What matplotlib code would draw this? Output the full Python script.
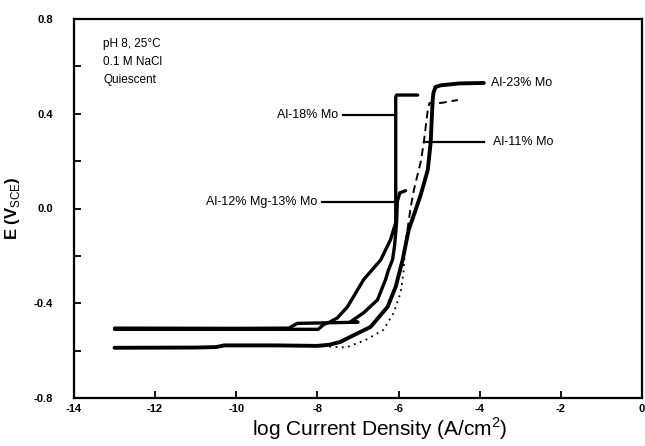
import numpy as np
import matplotlib.pyplot as plt

plt.rcParams['font.family'] = ['Liberation Sans', 'DejaVu Sans']
plt.rcParams['axes.unicode_minus'] = False
plt.rcParams['mathtext.fontset'] = 'custom'
plt.rcParams['mathtext.rm'] = 'Liberation Sans'

# Al-23% Mo (thick solid)
al23_x = [-13.0, -11.0, -10.5, -10.3, -9.0, -8.0, -7.7, -7.43, -7.19, -6.69, -6.27, -6.07,
          -5.90, -5.75, -5.58, -5.45, -5.28, -5.21, -5.16, -5.14, -5.09, -4.96, -4.5, -3.9]
al23_y = [-0.588, -0.587, -0.585, -0.578, -0.578, -0.58, -0.575, -0.563, -0.542, -0.50, -0.415, -0.33,
          -0.217, -0.09, -0.006, 0.06, 0.163, 0.277, 0.458, 0.488, 0.513, 0.52, 0.528, 0.53]

# Al-11% Mo (dotted / dashed)
al11_x = [-13.0, -10.5, -10.3, -8.0, -7.3, -6.81, -6.37, -6.12, -5.95, -5.88, -5.83,
          -5.78, -5.70, -5.62, -5.45, -5.38, -5.28, -5.24, -5.1, -4.9, -4.54]
al11_y = [-0.588, -0.585, -0.578, -0.58, -0.587, -0.555, -0.512, -0.44, -0.356, -0.272, -0.145,
          -0.09, 0.007, 0.08, 0.20, 0.277, 0.416, 0.445, 0.443, 0.447, 0.458]
al11_split = 10

# Al-18% Mo (solid)
al18_x = [-13.0, -10.0, -7.98, -7.85, -7.68, -7.51, -7.26, -6.86, -6.44, -6.20, -6.07, -6.07, -6.05, -5.53]
al18_y = [-0.51, -0.51, -0.51, -0.49, -0.478, -0.462, -0.415, -0.30, -0.217, -0.132, -0.06, 0.47, 0.479, 0.479]

# Al-12% Mg-13% Mo (solid)
almg_x = [-13.0, -10.0, -8.7, -8.5, -7.0, -7.18, -6.86, -6.52, -6.32, -6.25, -6.15, -6.10,
          -6.05, -6.03, -5.97, -5.83]
almg_y = [-0.505, -0.506, -0.505, -0.485, -0.48, -0.478, -0.44, -0.386, -0.30, -0.26, -0.217, -0.16,
          -0.06, 0.03, 0.066, 0.075]

fig = plt.figure(figsize=(6.45, 4.46), dpi=100)
ax = fig.add_axes([74 / 645, 1 - 398 / 446, (642 - 74) / 645, (398 - 19) / 446])

ax.plot(al11_x[:al11_split + 1], al11_y[:al11_split + 1], color='black', lw=1.3, ls=(0, (1, 2.5)))
ax.plot(al11_x[al11_split:], al11_y[al11_split:], color='black', lw=1.4, ls=(0, (4, 2.5)))
ax.plot(almg_x, almg_y, color='black', lw=2.4, solid_joinstyle='round', solid_capstyle='round')
ax.plot(al18_x, al18_y, color='black', lw=2.4, solid_joinstyle='round', solid_capstyle='round')
ax.plot(al23_x, al23_y, color='black', lw=2.8, solid_joinstyle='round', solid_capstyle='round')

# labels with leader lines
line_kw = dict(color='black', lw=1.6)
ax.plot([-7.38, -6.1], [0.395, 0.395], **line_kw)
ax.text(-7.5, 0.395, 'Al-18% Mo', ha='right', va='center', fontsize=9)
ax.plot([-7.88, -6.07], [0.028, 0.028], **line_kw)
ax.text(-8.0, 0.028, 'Al-12% Mg-13% Mo', ha='right', va='center', fontsize=9)
ax.plot([-5.38, -3.9], [0.281, 0.281], **line_kw)
ax.text(-3.68, 0.281, 'Al-11% Mo', ha='left', va='center', fontsize=9)
ax.text(-3.73, 0.53, 'Al-23% Mo', ha='left', va='center', fontsize=9)

ax.text(-13.28, 0.695, 'pH 8, 25°C', ha='left', va='center', fontsize=8.5)
ax.text(-13.28, 0.619, '0.1 M NaCl', ha='left', va='center', fontsize=8.5)
ax.text(-13.28, 0.543, 'Quiescent', ha='left', va='center', fontsize=8.5)

ax.set_xlim(-14, 0)
ax.set_ylim(-0.8, 0.8)
ax.set_xticks(np.arange(-14, 1, 2))
ax.set_yticks(np.arange(-0.8, 0.81, 0.4))
ax.set_yticks(np.arange(-0.6, 0.61, 0.4), minor=True)
ax.set_yticklabels(['-0.8', '-0.4', '0.0', '0.4', '0.8'])
ax.tick_params(axis='both', which='both', direction='in', length=5, width=1.3, labelsize=8)
ax.tick_params(axis='y', which='both', pad=15)
ax.tick_params(axis='x', pad=4)
for lab in ax.get_xticklabels() + ax.get_yticklabels():
    lab.set_fontweight('bold')
for sp in ax.spines.values():
    sp.set_linewidth(1.6)

ax.set_xlabel('log Current Density (A/cm$^2$)', fontsize=15)
ax.xaxis.set_label_coords(0.539, -0.046)
ax.set_ylabel('E (V$_{\\mathrm{SCE}}$)', fontsize=12, fontweight='bold')
ax.yaxis.set_label_coords(-0.092, 0.5)

fig.savefig('out.png', dpi=100)
